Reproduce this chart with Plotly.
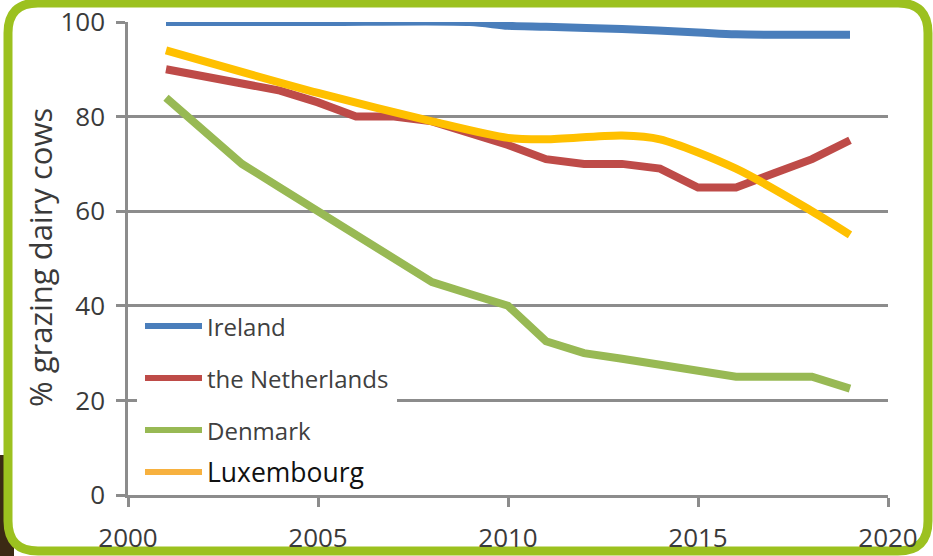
import plotly.graph_objects as go

# Share of dairy cows with access to grazing, by country
ireland_years = [2001, 2005, 2009, 2010, 2011, 2013, 2015, 2016, 2019]
ireland_vals = [100, 100, 100, 99.2, 99.0, 98.5, 97.8, 97.4, 97.3]

nl_years = list(range(2001, 2020))
nl_vals = [90, 88.5, 87, 85.5, 83, 80, 80, 79, 76.5, 74, 71, 70, 70, 69, 65, 65, 68, 71, 75]

dk_years = list(range(2001, 2020))
dk_vals = [84, 77, 70, 65, 60, 55, 50, 45, 42.5, 40, 32.5, 30, 28.8, 27.5, 26.2, 25, 25, 25, 22.5]

lux_years = [2001, 2005, 2008, 2010, 2011, 2013, 2014, 2016, 2018, 2019]
lux_vals = [94, 85, 79, 75.5, 75.2, 76, 75.2, 69, 60, 55]

series = [
    ("Ireland", ireland_years, ireland_vals, "#4A7EBB", "spline"),
    ("the Netherlands", nl_years, nl_vals, "#BE4B48", "linear"),
    ("Denmark", dk_years, dk_vals, "#98B954", "linear"),
    ("Luxembourg", lux_years, lux_vals, "#FFC000", "spline"),
]

x_ticks = [2000, 2005, 2010, 2015, 2020]
y_ticks = [0, 20, 40, 60, 80, 100]
y_title = "% grazing dairy cows"

FONT = "Open Sans"
GRID = "#8C8C8C"
TXT = "#3A3A3A"

fig = go.Figure()
for name, xs, ys, col, shape in series:
    fig.add_trace(go.Scatter(
        x=xs, y=ys, mode="lines", name=name, showlegend=False,
        line=dict(color=col, width=8, shape=shape, smoothing=0.8),
        hoverinfo="skip",
    ))

# plot area in pixels: x 128..888, y 22..495
L, R, T, B = 128, 45, 22, 61
W, H = 933, 556
pw, ph = W - L - R, H - T - B


def px(xp):
    return (xp - L) / pw


def py(yp):
    return (H - B - yp) / ph


shapes = []

# brown ground patch behind the lower-left corner of the frame
shapes.append(dict(type="rect", xref="paper", yref="paper", layer="below",
                   x0=px(-5), x1=px(14), y0=py(560), y1=py(455),
                   fillcolor="#3B2A14", line=dict(width=0)))

# rounded green frame
x0f, x1f, y0f, y1f, r = 8, 928, 3, 551, 30
path = (f"M {px(x0f + r)} {py(y0f)} L {px(x1f - r)} {py(y0f)} "
        f"Q {px(x1f)} {py(y0f)} {px(x1f)} {py(y0f + r)} "
        f"L {px(x1f)} {py(y1f - r)} Q {px(x1f)} {py(y1f)} {px(x1f - r)} {py(y1f)} "
        f"L {px(x0f + r)} {py(y1f)} Q {px(x0f)} {py(y1f)} {px(x0f)} {py(y1f - r)} "
        f"L {px(x0f)} {py(y0f + r)} Q {px(x0f)} {py(y0f)} {px(x0f + r)} {py(y0f)} Z")
shapes.append(dict(type="path", xref="paper", yref="paper", path=path,
                   layer="below", fillcolor="white",
                   line=dict(color="#9CC11F", width=9)))

# legend box and swatches
shapes.append(dict(type="rect", xref="paper", yref="paper", layer="above",
                   x0=px(137), x1=px(397), y0=py(490), y1=py(312),
                   fillcolor="white", line=dict(width=0)))
legend_rows = [326, 378, 430, 472]
legend_cols = ["#4A7EBB", "#BE4B48", "#98B954", "#F7B13F"]
annotations = []
for (name, *_), yrow, col in zip(series, legend_rows, legend_cols):
    shapes.append(dict(type="line", xref="paper", yref="paper", layer="above",
                       x0=px(145), x1=px(202), y0=py(yrow), y1=py(yrow),
                       line=dict(color=col, width=6)))
    big = name == "Luxembourg"
    annotations.append(dict(
        xref="paper", yref="paper", x=px(205), y=py(yrow),
        xanchor="left", yanchor="middle", showarrow=False, text=name,
        font=dict(family=FONT, size=26.5 if big else 24,
                  color="#111111" if big else "#404040"),
    ))

# rotated y-axis title
annotations.append(dict(
    xref="paper", yref="paper", x=px(40), y=py(258), textangle=-90,
    xanchor="center", yanchor="middle", showarrow=False, text=y_title,
    font=dict(family=FONT, size=31, color=TXT),
))

fig.update_layout(
    width=W, height=H,
    margin=dict(l=L, r=R, t=T, b=B, autoexpand=False),
    paper_bgcolor="white", plot_bgcolor="rgba(0,0,0,0)",
    font=dict(family=FONT, color=TXT),
    shapes=shapes, annotations=annotations,
    xaxis=dict(range=[2000, 2020], tickvals=x_ticks, ticktext=[str(v) for v in x_ticks],
               showgrid=False, zeroline=False, showline=True, linecolor=GRID, linewidth=2.5,
               ticks="outside", ticklen=9, tickwidth=2.5, tickcolor=GRID,
               tickfont=dict(size=26, color=TXT, family=FONT), ticklabelstandoff=9,
               automargin=False, fixedrange=True),
    yaxis=dict(range=[0, 100], tickvals=y_ticks, ticksuffix="\u00a0",
               showgrid=True, gridcolor=GRID, gridwidth=2.5,
               zeroline=False, showline=True, linecolor=GRID, linewidth=2.5,
               ticks="outside", ticklen=9, tickwidth=2.5, tickcolor=GRID,
               tickfont=dict(size=26, color=TXT, family=FONT), ticklabelstandoff=6,
               automargin=False, fixedrange=True),
)

fig.write_html("out.html", config={"displayModeBar": False})
